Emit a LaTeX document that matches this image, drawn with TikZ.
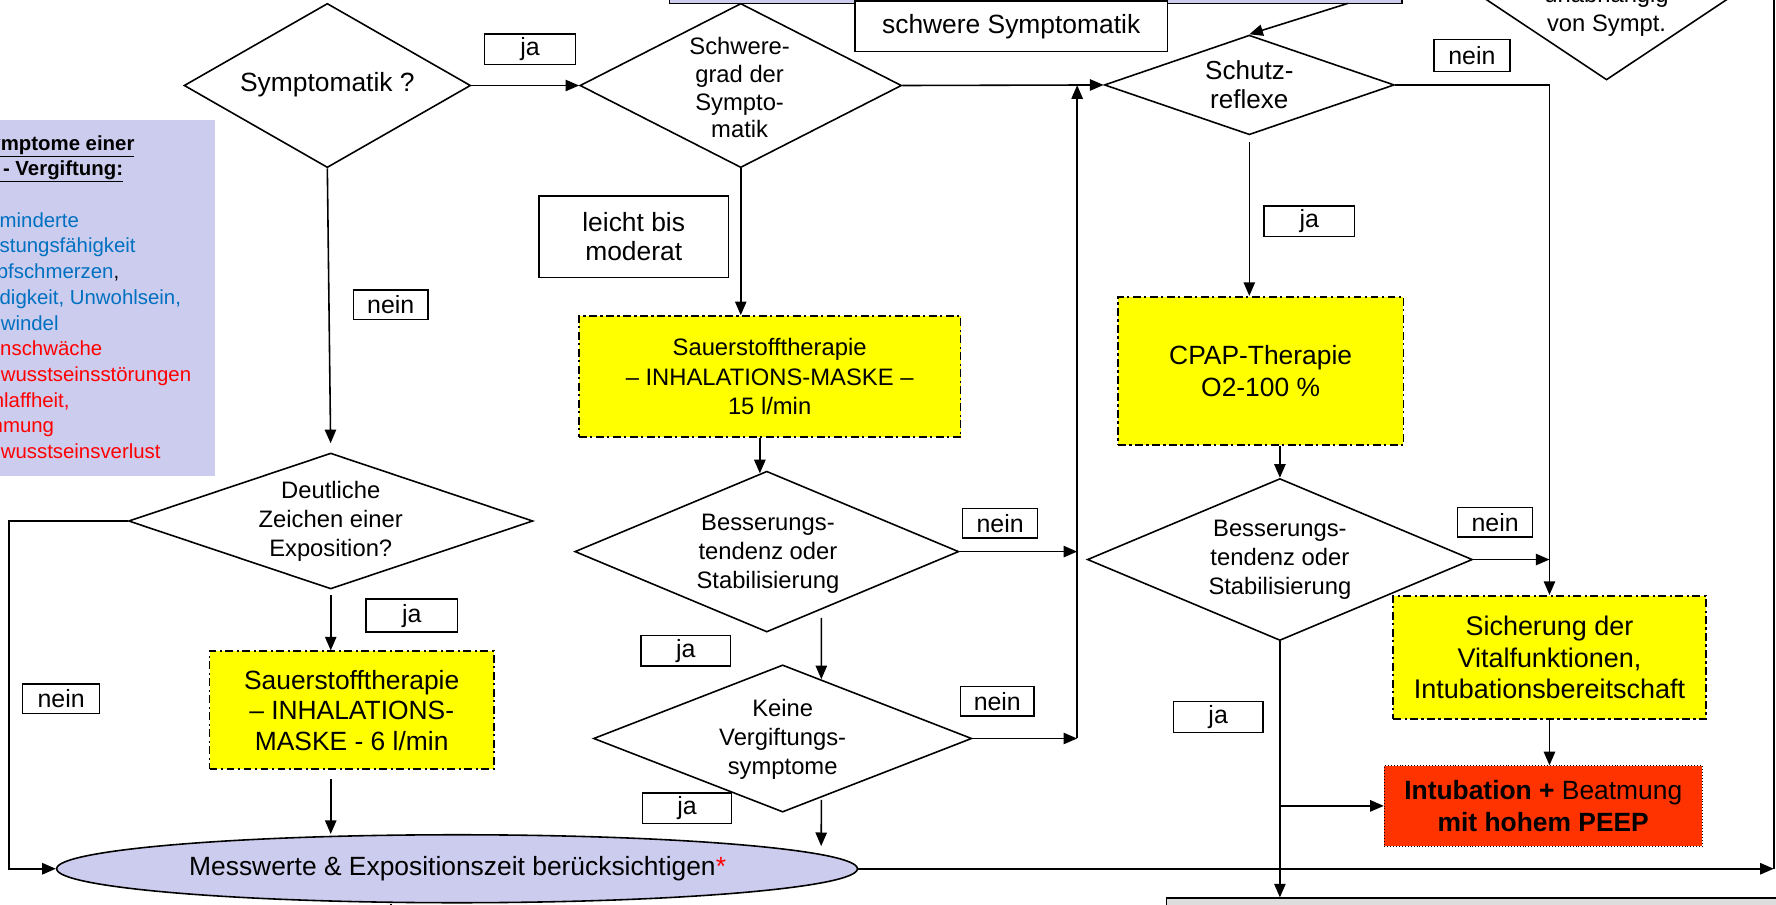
\documentclass[tikz,border=0pt]{standalone}
\usepackage{fontspec}
\setmainfont{Liberation Sans}
\usetikzlibrary{shapes.geometric,arrows.meta,calc}
\definecolor{lav}{HTML}{CCCCEE}
\definecolor{ylw}{HTML}{FFFF00}
\definecolor{redbox}{HTML}{FF3300}
\definecolor{symblue}{HTML}{0070C0}
\definecolor{symred}{HTML}{FF0000}
\definecolor{greybox}{HTML}{DDDDDD}
\begin{document}
\begin{tikzpicture}[x=1pt,y=-1pt,line width=1.4pt,
  every node/.style={font=\fontsize{21}{25.7}\selectfont, inner sep=0pt, align=center},
  big/.style={font=\fontsize{23.3}{28}\selectfont},
  arr/.style={-{Triangle[length=12pt,width=10pt]}},
  dia/.style={diamond, draw, fill=white, inner sep=0pt},
  lbl/.style={draw, fill=white, line width=1.2pt, minimum height=27pt, font=\fontsize{22}{26}\selectfont},
  plainbox/.style={draw, fill=white, line width=1.2pt},
  ybox/.style={draw, fill=ylw, line width=1.5pt, dash pattern=on 7pt off 3pt on 2pt off 3pt},
  sidetxt/.style={anchor=base west, font=\fontsize{18}{22.7}\selectfont}
]
\path[use as bounding box] (0,0) rectangle (1568,799);
\clip (0,0) rectangle (1568,799);
\fill[white] (0,0) rectangle (1568,799);

% ---------- legend box on the left ----------
\node[fill=lav, minimum width=200pt, minimum height=314pt] (legend) at (90,263) {};
\node[sidetxt, font=\fontsize{18}{22.7}\selectfont\bfseries] (h1) at (-22,132.5) {\underline{Symptome einer}};
\node[sidetxt, font=\fontsize{18}{22.7}\selectfont\bfseries] (h2) at (-30,155.2) {\underline{CO - Vergiftung:}};
\node[sidetxt, text=symblue] (s1) at (-26,200.6) {verminderte};
\node[sidetxt, text=symblue] (s2) at (-25,223.3) {Leistungsfähigkeit};
\node[sidetxt, text=symblue] (s3) at (-25.5,246.0) {Kopfschmerzen\textcolor{black}{,}};
\node[sidetxt, text=symblue] (s4) at (-26,268.7) {Müdigkeit, Unwohlsein,};
\node[sidetxt, text=symblue] (s5) at (-31,291.4) {Schwindel};
\node[sidetxt, text=symred] (s6) at (-26.5,314.1) {Beinschwäche};
\node[sidetxt, text=symred] (s7) at (-22,336.8) {Bewusstseinsstörungen};
\node[sidetxt, text=symred] (s8) at (-28,359.5) {Schlaffheit,};
\node[sidetxt, text=symred] (s9) at (-28,382.2) {Lähmung};
\node[sidetxt, text=symred] (s10) at (-22,404.9) {Bewusstseinsverlust};

% ---------- top row ----------
\node[draw, fill=lav, line width=1.4pt, minimum width=647pt, minimum height=43pt] (topbox) at (914.5,-18.5) {};
\node[plainbox, big, minimum width=275.5pt, minimum height=44.5pt] (schwer) at (892.75,23.25) {schwere Symptomatik};

\node[dia, minimum width=253pt, minimum height=145pt] (sym) at (289,75.5) {};
\node[big] (sym-t) at (289,75) {Symptomatik ?};

\node[dia, minimum width=284pt, minimum height=145pt] (sg) at (654,75.5) {};
\node[font=\fontsize{21}{24.5}\selectfont] (sg-t) at (653,77.5) {Schwere-\\grad der\\Sympto-\\matik};

\node[dia, minimum width=256pt, minimum height=88pt] (schutz) at (1103,75) {};
\node[font=\fontsize{23}{26}\selectfont] (schutz-t) at (1103,75) {Schutz-\\reflexe};

\node[dia, minimum width=300pt, minimum height=200pt] (unab) at (1418.4,-29.4) {};
\node[anchor=base] (unab-t1) at (1418.4,2.5) {unabhängig};
\node[anchor=base] (unab-t2) at (1418.4,28) {von Sympt.};

% ---------- middle column ----------
\node[plainbox, font=\fontsize{23.3}{26}\selectfont, minimum width=167pt, minimum height=72pt] (leicht) at (559.5,209) {leicht bis\\moderat};
\node[ybox, minimum width=337pt, minimum height=107pt] (y15) at (679.5,332.5) {Sauerstofftherapie\\– INHALATIONS-MASKE –\\15 l/min};

\node[dia, minimum width=339pt, minimum height=142pt] (bess1) at (677,487) {};
\node (bess1-t) at (678,489) {Besserungs-\\tendenz oder\\Stabilisierung};

\node[dia, minimum width=334pt, minimum height=130pt] (keine) at (691,652) {};
\node (keine-t) at (691,653) {Keine\\Vergiftungs-\\symptome};

% ---------- left column ----------
\node[dia, minimum width=357pt, minimum height=120pt] (deutl) at (292,460) {};
\node (deutl-t) at (292,460) {Deutliche\\Zeichen einer\\Exposition?};
\node[ybox, font=\fontsize{23.3}{27}\selectfont, minimum width=251pt, minimum height=104pt] (y6) at (310.5,627) {Sauerstofftherapie\\– INHALATIONS-\\MASKE - 6 l/min};

\node[ellipse, draw, fill=lav, minimum width=707pt, minimum height=60pt] (mess) at (403.5,767) {};
\node[big] (mess-t) at (404,767) {Messwerte \& Expositionszeit berücksichtigen\textcolor{symred}{*}};

% ---------- right column ----------
\node[ybox, big, minimum width=252pt, minimum height=131pt] (cpap) at (1113,327.5) {CPAP-Therapie\\O2-100 \%};
\node[dia, minimum width=340pt, minimum height=143pt] (bess2) at (1130,494) {};
\node (bess2-t) at (1130,494.5) {Besserungs-\\tendenz oder\\Stabilisierung};
\node[ybox, font=\fontsize{23.8}{28}\selectfont, minimum width=276pt, minimum height=109pt] (sicher) at (1368,580.5) {Sicherung der\\Vitalfunktionen,\\Intubationsbereitschaft};
\node[draw, fill=redbox, line width=0.6pt, dotted, big, minimum width=281pt, minimum height=71pt] (intub) at (1362.5,711.5) {\textbf{Intubation +} Beatmung\\\textbf{mit hohem PEEP}};
\node[draw, fill=greybox, line width=1.4pt, minimum width=545pt, minimum height=37pt] (grey) at (1302.5,811.5) {};

% ---------- answer labels ----------
\node[lbl, minimum width=80pt] (ja1) at (468,43.5) {ja};
\node[lbl, minimum width=67pt, minimum height=28pt] (nein1) at (1299.5,49) {nein};
\node[lbl, minimum width=80pt] (ja2) at (1156,195.5) {ja};
\node[lbl, minimum width=66pt, minimum height=26pt] (nein2) at (345,269) {nein};
\node[lbl, minimum width=66pt, minimum height=26pt] (nein3) at (883,462) {nein};
\node[lbl, minimum width=79pt] (ja3) at (605.5,574.5) {ja};
\node[lbl, minimum width=65pt, minimum height=26pt] (nein4) at (880.5,619) {nein};
\node[lbl, minimum width=79pt] (ja4) at (606.5,713.5) {ja};
\node[lbl, minimum width=68pt, minimum height=26pt] (nein5) at (54,617) {nein};
\node[lbl, minimum width=81pt, minimum height=29pt] (ja5) at (363.5,543.5) {ja};
\node[lbl, minimum width=66pt, minimum height=26pt] (nein6) at (1320,461) {nein};
\node[lbl, minimum width=79pt] (ja6) at (1075.5,633) {ja};

% ---------- free ends of connectors ----------
\coordinate (vtop) at (951,75.2);
\coordinate (vbot) at (951,652);
\coordinate (tbout) at (1190,3);
\coordinate (lft) at (8,460);
\coordinate (rtop) at (1566,0);
\coordinate (rbot) at (1566,767);
\coordinate (mbot) at (345,805);
\coordinate (kmess) at (725,747);
\coordinate (b1in) at ($(bess1.north)!0.036!(bess1.west)$);

% ---------- connectors ----------
\draw[arr] (sym.east) -- (sg.west);
\draw[arr] (sg.east) -- (schutz.west);
\draw[arr] (tbout) -- (schutz.north);
\draw[arr] (schutz.east) -| (sicher.north);
\draw[arr, shorten <=6pt] (schutz.south) -- (schutz.south |- cpap.north);
\draw[arr] (bess2.north |- cpap.south) -- (bess2.north);
\draw[arr] (bess2.east) -- (bess2.east -| sicher.north);
\draw[arr] (bess2.south) -- (bess2.south |- grey.north);
\draw[arr] (bess2.south |- intub.west) -- (intub.west);
\draw[arr] (sicher.south) -- (sicher.south |- intub.north);

\draw[arr] (sg.south) -- (sg.south |- y15.north);
\draw[arr] (y15.south -| b1in) -- (b1in);
\draw[arr] (bess1.east) -- (bess1.east -| vtop);
\draw[arr, shorten <=7pt] ($(bess1.east)!0.717!(bess1.south)$) -- ($(keine.north)!0.2036!(keine.east)$);
\draw[arr] (keine.east) -- (vbot);
\draw[arr] (vbot) -- (vtop);
\draw[arr, shorten <=2pt] ($(keine.east)!0.796!(keine.south)$) -- (kmess);

\draw[arr, shorten >=8pt] (sym.south) -- (deutl.north);
\draw[arr, shorten <=5pt] (deutl.south) -- (deutl.south |- y6.north);
\draw[arr, shorten <=8pt] (deutl.south |- y6.south) -- (deutl.south |- mess.north);
\draw[arr] (deutl.west) -- (lft) |- (mess.west);

\draw (rtop) -- (rbot);
\draw[arr] (mess.east) -- (rbot);
\draw (mess.south -| mbot) -- (mbot);
\end{tikzpicture}
\end{document}
